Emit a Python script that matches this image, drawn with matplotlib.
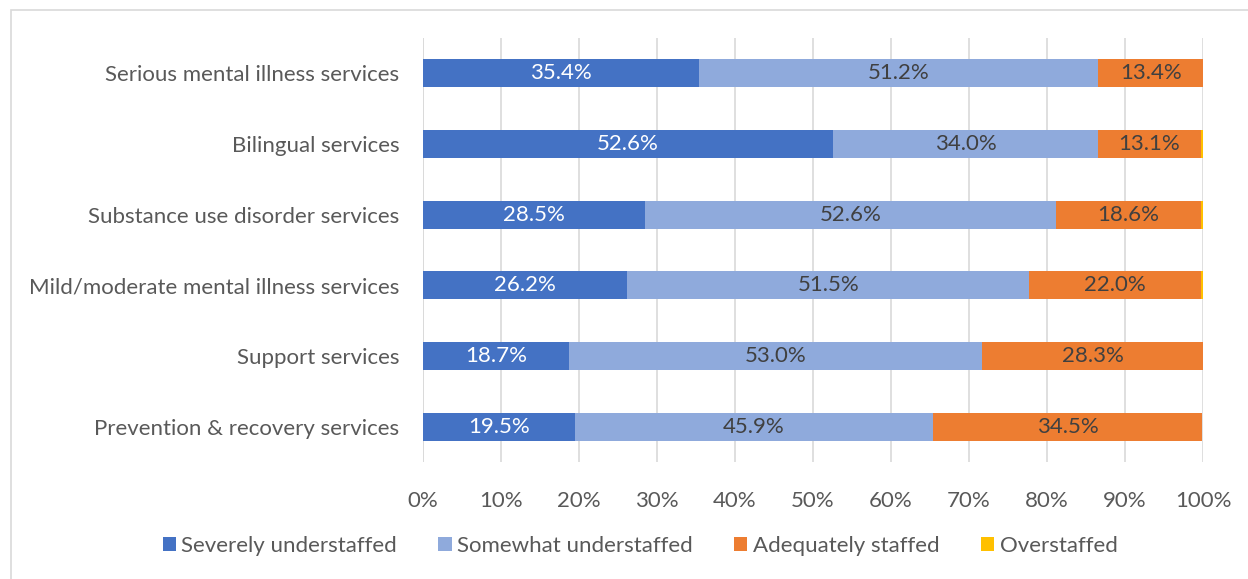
import numpy as np
import matplotlib.pyplot as plt
from matplotlib.patches import Rectangle

plt.rcParams['font.family'] = ['Lato', 'DejaVu Sans']

services = ['Serious mental illness services', 'Bilingual services',
            'Substance use disorder services', 'Mild/moderate mental illness services',
            'Support services', 'Prevention & recovery services']
severely = [35.4, 52.6, 28.5, 26.2, 18.7, 19.5]
somewhat = [51.2, 34.0, 52.6, 51.5, 53.0, 45.9]
adequate = [13.4, 13.1, 18.6, 22.0, 28.3, 34.5]
over = [0.0, 0.3, 0.3, 0.3, 0.0, 0.0]

series = [('Severely understaffed', severely, '#4472C4', 'white'),
          ('Somewhat understaffed', somewhat, '#8FAADC', '#404040'),
          ('Adequately staffed', adequate, '#ED7D31', '#404040'),
          ('Overstaffed', over, '#FFC000', '#404040')]

fig = plt.figure(figsize=(12.48, 5.79), dpi=100)
ax = fig.add_axes([423 / 1248, 1 - 462 / 579, 780 / 1248, 424 / 579])

# outer chart frame
fig.patches.append(Rectangle((11 / 1248, -0.1), 1.5, 1 - 10 / 579 + 0.1,
                             transform=fig.transFigure, fill=False,
                             edgecolor='#D9D9D9', linewidth=1.2))

y = np.arange(len(services))
left = np.zeros(len(services))
for name, vals, color, tcolor in series:
    vals = np.array(vals)
    ax.barh(y, vals, left=left, height=0.4, color=color, label=name, zorder=3)
    for yi, l, v in zip(y, left, vals):
        if v >= 5:
            ax.text(l + v / 2, yi, f'{v:.1f}%', ha='center', va='center',
                    color=tcolor, fontsize=16, zorder=4)
    left += vals

ax.set_xlim(0, 100)
ax.set_ylim(len(services) - 0.5, -0.5)
ax.set_xticks(np.arange(0, 101, 10))
ax.set_xticklabels([f'{t}%' for t in range(0, 101, 10)])
ax.set_yticks(y)
ax.set_yticklabels(services)
ax.tick_params(axis='both', length=0, labelsize=16, labelcolor='#595959')
ax.tick_params(axis='x', pad=21)
ax.tick_params(axis='y', pad=17)
ax.grid(axis='x', color='#D9D9D9', linewidth=1.2, zorder=0)
for s in ax.spines.values():
    s.set_visible(False)
ax.axvline(0, color='#D9D9D9', linewidth=1.2, zorder=1)

fig.legend(loc='center', bbox_to_anchor=(640 / 1248, 1 - 546 / 579), ncol=4,
           frameon=False, fontsize=16, labelcolor='#595959', handlelength=0.6,
           handleheight=0.6, handletextpad=0.25, columnspacing=1.85)

fig.savefig('out.png', dpi=100)
